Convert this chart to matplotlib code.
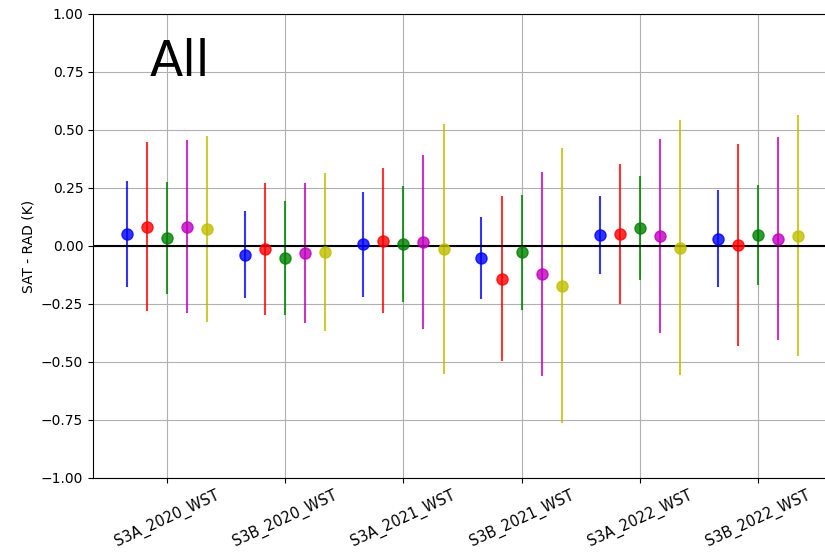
import numpy as np
from matplotlib import pyplot as plt

# 数据
groups = ['S3A_2020_WST', 'S3B_2020_WST', 'S3A_2021_WST',
          'S3B_2021_WST', 'S3A_2022_WST', 'S3B_2022_WST']
colors = ['b', 'r', 'g', 'm', 'y']

# mean of SAT - RAD per series (one value per group)
mean_b = [0.052, -0.037, 0.008, -0.052, 0.047, 0.032]
mean_r = [0.083, -0.012, 0.022, -0.141, 0.052, 0.004]
mean_g = [0.034, -0.052, 0.008, -0.028, 0.078, 0.047]
mean_m = [0.083, -0.031, 0.016, -0.121, 0.042, 0.032]
mean_y = [0.072, -0.027, -0.014, -0.171, -0.008, 0.044]

# standard deviation (error bar half length)
std_b = [0.228, 0.189, 0.226, 0.178, 0.170, 0.209]
std_r = [0.364, 0.285, 0.312, 0.357, 0.302, 0.437]
std_g = [0.243, 0.245, 0.250, 0.248, 0.223, 0.216]
std_m = [0.374, 0.303, 0.375, 0.441, 0.419, 0.438]
std_y = [0.400, 0.341, 0.540, 0.592, 0.550, 0.519]

means = [mean_b, mean_r, mean_g, mean_m, mean_y]
stds = [std_b, std_r, std_g, std_m, std_y]

fig = plt.figure(figsize=(8.25, 5.59), dpi=100)
ax = fig.add_axes([0.1127, 0.145, 0.8958, 0.830])

x = np.arange(len(groups))
step = 0.17
for k in range(len(means)):
    ax.errorbar(x + (k - 2) * step, means[k], yerr=stds[k], fmt='o',
                color=colors[k], alpha=0.8, markersize=8, elinewidth=1.5)

ax.axhline(0, color='k', lw=1.5)
ax.set_ylim(-1, 1)
ax.set_xticks(x)
ax.set_xticklabels(groups, rotation=25, fontsize=10.5)
ax.set_ylabel('SAT - RAD (K)')
ax.grid(True)
ax.set_axisbelow(True)
ax.text(0.077, 0.866, 'All', transform=ax.transAxes, fontsize=35,
        ha='left', va='baseline')

plt.savefig('out.png', dpi=100)
